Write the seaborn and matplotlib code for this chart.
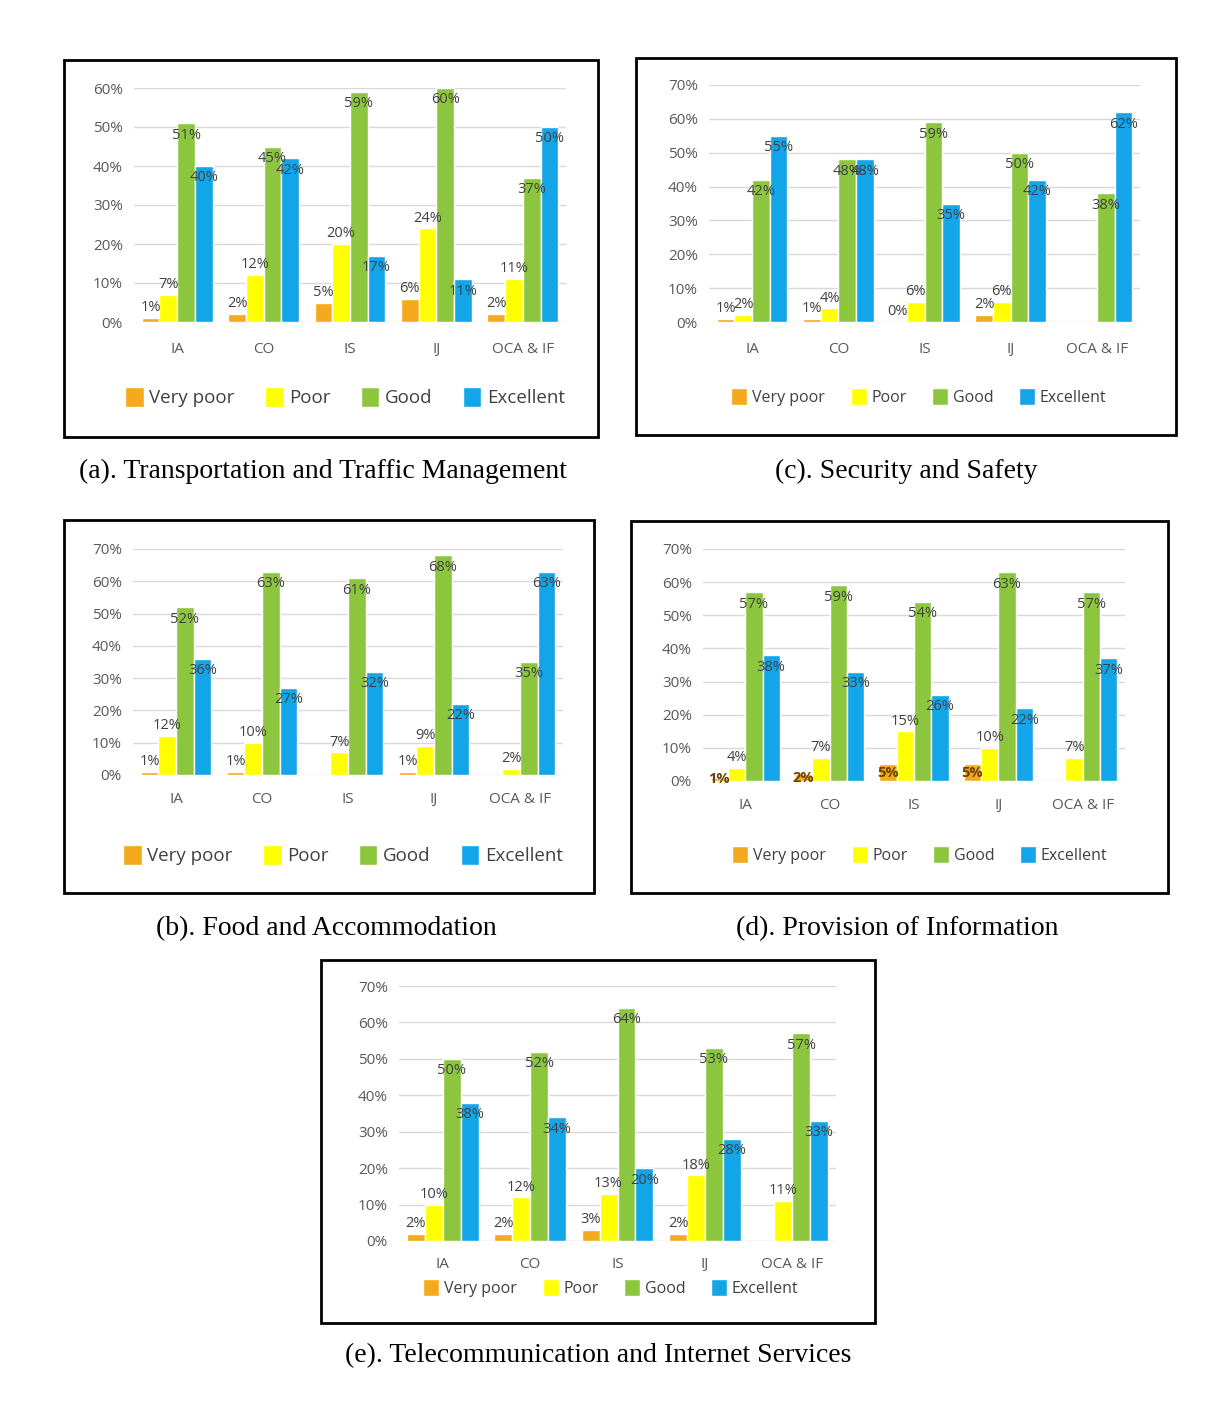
import numpy as np
import pandas as pd
import seaborn as sns
import matplotlib.pyplot as plt
from matplotlib.patches import Rectangle

W, H = 1228, 1409

categories = ['IA', 'CO', 'IS', 'IJ', 'OCA & IF']
ratings = ['Very poor', 'Poor', 'Good', 'Excellent']
colors = ['#F5A91C', '#FFFF00', '#8CC63F', '#12A5E8']
nan = np.nan

# (a) Transportation and Traffic Management
transport_very_poor = [1, 2, 5, 6, 2]
transport_poor = [7, 12, 20, 24, 11]
transport_good = [51, 45, 59, 60, 37]
transport_excellent = [40, 42, 17, 11, 50]

# (c) Security and Safety
security_very_poor = [1, 1, 0, 2, nan]
security_poor = [2, 4, 6, 6, nan]
security_good = [42, 48, 59, 50, 38]
security_excellent = [55, 48, 35, 42, 62]

# (b) Food and Accommodation
food_very_poor = [1, 1, nan, 1, nan]
food_poor = [12, 10, 7, 9, 2]
food_good = [52, 63, 61, 68, 35]
food_excellent = [36, 27, 32, 22, 63]

# (d) Provision of Information
info_very_poor = [1, 2, 5, 5, nan]
info_poor = [4, 7, 15, 10, 7]
info_good = [57, 59, 54, 63, 57]
info_excellent = [38, 33, 26, 22, 37]

# (e) Telecommunication and Internet Services
telecom_very_poor = [2, 2, 3, 2, nan]
telecom_poor = [10, 12, 13, 18, 11]
telecom_good = [50, 52, 64, 53, 57]
telecom_excellent = [38, 34, 20, 28, 33]


def long_frame(series):
    rows = []
    for rating, vals in zip(ratings, series):
        for cat, v in zip(categories, vals):
            rows.append({'category': cat, 'rating': rating, 'value': v})
    return pd.DataFrame(rows)


def px_rect(x0, y0, x1, y1):
    return [x0 / W, 1 - y1 / H, (x1 - x0) / W, (y1 - y0) / H]


sns.set_theme(style='white')
plt.rcParams['font.family'] = ['Open Sans', 'DejaVu Sans']

fig = plt.figure(figsize=(W / 100, H / 100), dpi=100)

# box, plot area, legend centre, caption centre, caption, ymax, legend size, xlabel offset
panels = [
    dict(series=[transport_very_poor, transport_poor, transport_good, transport_excellent],
         box=(64, 60, 598, 437), plot=(134, 88, 566, 322), legend=(345, 397),
         caption=(323, 471), text='(a). Transportation and Traffic Management',
         ymax=60, lsize=13.5, xoff=28, center_vp=False),
    dict(series=[security_very_poor, security_poor, security_good, security_excellent],
         box=(636, 58, 1176, 435), plot=(709, 85, 1140, 322), legend=(919, 397),
         caption=(906, 471), text='(c). Security and Safety',
         ymax=70, lsize=11.5, xoff=28, center_vp=False),
    dict(series=[food_very_poor, food_poor, food_good, food_excellent],
         box=(64, 520, 594, 893), plot=(133, 549, 563, 775), legend=(343, 855),
         caption=(326, 929), text='(b). Food and Accommodation',
         ymax=70, lsize=13.5, xoff=25, center_vp=False),
    dict(series=[info_very_poor, info_poor, info_good, info_excellent],
         box=(631, 521, 1168, 893), plot=(703, 549, 1125, 781), legend=(920, 855),
         caption=(897, 929), text='(d). Provision of Information',
         ymax=70, lsize=11.5, xoff=25, center_vp=True),
    dict(series=[telecom_very_poor, telecom_poor, telecom_good, telecom_excellent],
         box=(321, 960, 875, 1323), plot=(399, 986, 836, 1241), legend=(611, 1288),
         caption=(598, 1356), text='(e). Telecommunication and Internet Services',
         ymax=70, lsize=11.5, xoff=24, center_vp=False),
]

for p in panels:
    # black frame round each chart
    bx0, by0, bx1, by1 = p['box']
    fig.add_artist(Rectangle((bx0 / W, 1 - by1 / H), (bx1 - bx0) / W, (by1 - by0) / H,
                             transform=fig.transFigure, fill=False, ec='black', lw=2))

    ax = fig.add_axes(px_rect(*p['plot']))
    df = long_frame(p['series'])
    sns.barplot(data=df, x='category', y='value', hue='rating', order=categories,
                hue_order=ratings, palette=colors, saturation=1, width=0.82,
                errorbar=None, ax=ax)

    ymax = p['ymax']
    ax.set_xlim(-0.5, 4.5)
    ax.set_ylim(0, ymax)
    ticks = list(range(0, ymax + 1, 10))
    ax.set_yticks(ticks)
    ax.set_yticklabels([f'{t}%' for t in ticks])
    ax.set_xlabel('')
    ax.set_ylabel('')
    ax.grid(axis='y', color='#D9D9D9', lw=1)
    ax.set_axisbelow(True)
    for s in ax.spines.values():
        s.set_visible(False)
    ax.tick_params(axis='both', length=0, labelsize=11, labelcolor='#595959')
    ax.tick_params(axis='y', pad=8)
    ax.tick_params(axis='x', pad=(p['xoff'] - 8) * 0.72)

    # data labels
    for i, cont in enumerate(ax.containers):
        if i == 0 and p['center_vp']:
            ax.bar_label(cont, fmt='{:.0f}%', label_type='center', fontsize=10.5,
                         fontweight='bold', color='#6B4200')
        elif i < 2:
            ax.bar_label(cont, fmt='{:.0f}%', padding=2, fontsize=10.5, color='#404040')
        else:
            ax.bar_label(cont, fmt='{:.0f}%', padding=-14, fontsize=10.5, color='#404040')

    handles, labels = ax.get_legend_handles_labels()
    ax.legend(handles, labels, loc='center', ncol=4, frameon=False,
              bbox_to_anchor=(p['legend'][0] / W, 1 - p['legend'][1] / H),
              bbox_transform=fig.transFigure, fontsize=p['lsize'],
              handlelength=1.0, handleheight=1.3, handletextpad=0.3,
              columnspacing=1.6, labelcolor='#404040')

    fig.text(p['caption'][0] / W, 1 - p['caption'][1] / H, p['text'],
             ha='center', va='center', family='Liberation Serif', fontsize=20,
             color='black')

fig.savefig('out.png', dpi=100)
